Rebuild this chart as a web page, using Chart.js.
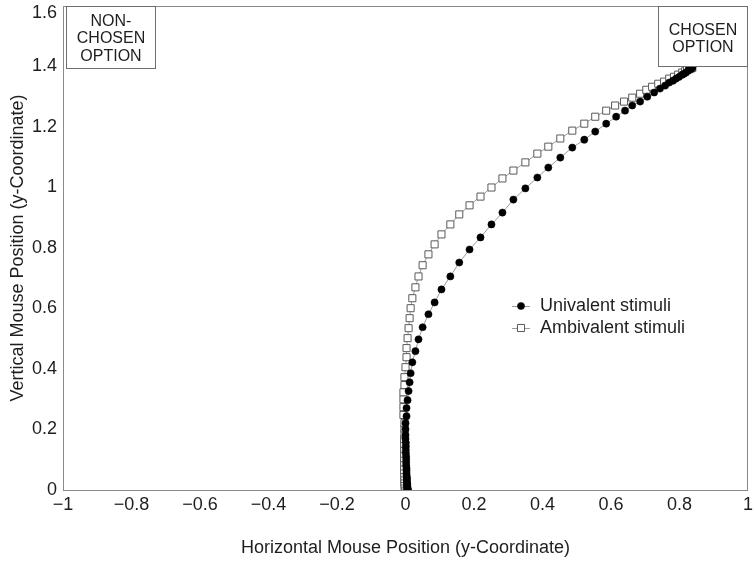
<!DOCTYPE html>
<html>
<head>
<meta charset="utf-8">
<script src="https://cdn.jsdelivr.net/npm/chart.js@4/dist/chart.umd.min.js"></script>
<style>
  html, body { margin: 0; padding: 0; background: #fff; }
  #wrap { width: 754px; height: 561px; }
</style>
</head>
<body>
<div id="wrap"><canvas id="mouse-chart"></canvas></div>
<script>
// mean trajectories
var uniX = [0.006,0.006,0.006,0.006,0.006,0.006,0.005,0.005,0.005,0.005,0.004,0.004,0.004,0.004,0.003,0.003,0.003,0.003,0.002,0.002,0.002,0.002,0.001,0.001,0.001,0.001,0.000,0.000,
  0.000,0.000,0.003,0.003,0.006,0.009,0.012,0.015,0.020,0.029,0.038,0.050,0.067,0.085,0.105,0.131,0.157,0.187,0.219,0.251,0.283,0.315,0.350,0.385,0.417,0.452,0.487,0.522,0.554,0.586,0.615,0.641,0.662,0.685,0.706,0.726,
  0.743,0.758,0.770,0.781,0.790,0.799,0.808,0.813,0.819,0.825,0.828,0.831,0.834,0.835,0.837,0.837];
var uniY = [0,0.000,0.001,0.002,0.004,0.006,0.009,0.012,0.016,0.020,0.025,0.030,0.036,0.042,0.049,0.056,0.064,0.072,0.081,0.090,0.100,0.110,0.121,0.132,0.144,0.156,0.169,0.182,
  0.201,0.221,0.244,0.271,0.297,0.327,0.356,0.386,0.422,0.459,0.498,0.538,0.581,0.620,0.663,0.706,0.752,0.795,0.835,0.878,0.917,0.960,0.997,1.033,1.066,1.099,1.132,1.158,1.185,1.211,1.234,1.254,1.271,1.284,1.300,1.314,
  1.327,1.337,1.347,1.353,1.360,1.366,1.373,1.376,1.380,1.386,1.389,1.391,1.393,1.394,1.396,1.396];

var ambX = [0.000,-0.001,-0.001,-0.002,-0.002,-0.002,-0.003,-0.003,-0.003,-0.003,-0.004,-0.004,-0.004,-0.004,-0.004,-0.004,-0.004,-0.004,-0.004,-0.003,-0.003,
  -0.003,-0.006,-0.006,-0.006,-0.006,-0.003,-0.003,0.000,0.003,0.003,0.006,0.009,0.012,0.015,0.020,0.029,0.038,0.050,0.067,0.085,0.105,0.131,0.157,0.187,0.219,0.251,0.283,0.315,0.350,0.385,0.417,0.452,0.487,0.522,0.554,0.586,
  0.612,0.638,0.662,0.685,0.703,0.720,0.738,0.755,0.770,0.784,0.796,0.808,0.816,0.822,0.828,0.831,0.834,0.837,0.837];
var ambY = [0,0.001,0.003,0.006,0.010,0.015,0.021,0.028,0.036,0.045,0.055,0.066,0.078,0.091,0.105,0.120,0.136,0.152,0.169,0.186,0.203,
  0.221,0.248,0.274,0.300,0.323,0.347,0.373,0.406,0.439,0.469,0.502,0.535,0.568,0.601,0.634,0.670,0.706,0.743,0.779,0.812,0.845,0.878,0.911,0.941,0.970,1.000,1.030,1.056,1.083,1.112,1.135,1.162,1.188,1.211,1.234,1.254,
  1.271,1.284,1.297,1.310,1.323,1.333,1.343,1.350,1.360,1.366,1.373,1.380,1.384,1.388,1.391,1.393,1.394,1.396,1.396];

var seriesNames = ['Univalent stimuli', 'Ambivalent stimuli'];
var xTicks = [-1, -0.8, -0.6, -0.4, -0.2, 0, 0.2, 0.4, 0.6, 0.8, 1];
var yTicks = [0, 0.2, 0.4, 0.6, 0.8, 1, 1.2, 1.4, 1.6];
var xTitle = 'Horizontal Mouse Position (y-Coordinate)';
var yTitle = 'Vertical Mouse Position (y-Coordinate)';
var leftBoxLines = ['NON-', 'CHOSEN', 'OPTION'];
var rightBoxLines = ['CHOSEN', 'OPTION'];

function pts(xs, ys) {
  return xs.map(function (x, i) { return { x: x, y: ys[i] }; });
}

var FONT = 'Arial, "Liberation Sans", Helvetica, sans-serif';
var TXT = '#1e1e1e';
var FRAME = '#8a8a8a';

function fmt(v) {
  var s = String(Math.round(v * 10) / 10);
  return s.replace('-', '\u2212');
}

// plot frame; also nudge the top y label down so it stays on the canvas
var framePlugin = {
  id: 'frame',
  beforeDraw: function (chart) {
    var ys = chart.scales.y;
    var items = ys.getLabelItems(chart.chartArea);
    items.forEach(function (it) {
      if (it.label === '1.6' && !it._moved) {
        it.options.translation[1] += 7;
        it._moved = true;
      }
    });
  },
  beforeDatasetsDraw: function (chart) {
    var a = chart.chartArea, ctx = chart.ctx;
    ctx.save();
    ctx.strokeStyle = FRAME;
    ctx.lineWidth = 1;
    ctx.strokeRect(a.left + 0.5, a.top + 0.5, a.right - a.left - 1, a.bottom - a.top);
    ctx.restore();
  }
};

// answer boxes + legend inside the plot
var overlayPlugin = {
  id: 'overlay',
  afterDatasetsDraw: function (chart) {
    var ctx = chart.ctx, xs = chart.scales.x, ys = chart.scales.y;
    ctx.save();
    function box(x0, x1, y0, y1, lines, ty, lh) {
      var l = Math.round(xs.getPixelForValue(x0)) + 0.5, r = Math.round(xs.getPixelForValue(x1)) - 0.5;
      var t = Math.round(ys.getPixelForValue(y0)) + 0.5, b = Math.round(ys.getPixelForValue(y1)) + 0.5;
      ctx.fillStyle = '#fff';
      ctx.fillRect(l, t, r - l, b - t);
      ctx.strokeStyle = '#6e6e6e';
      ctx.lineWidth = 1;
      ctx.strokeRect(l, t, r - l, b - t);
      ctx.fillStyle = TXT;
      ctx.font = '16px ' + FONT;
      ctx.textAlign = 'center';
      ctx.textBaseline = 'middle';
      lines.forEach(function (s, i) { ctx.fillText(s, (l + r) / 2, t + ty + i * lh); });
    }
    box(-0.991, -0.729, 1.6, 1.396, leftBoxLines, 15, 17.5);
    box(0.738, 1.0, 1.6, 1.403, rightBoxLines, 24.5, 17);

    var lx = chart.chartArea.left + 458, ly = chart.chartArea.top + 300;
    chart.data.datasets.forEach(function (ds, i) {
      var y = ly + i * 22;
      ctx.strokeStyle = ds.borderColor;
      ctx.lineWidth = 1;
      ctx.beginPath(); ctx.moveTo(lx - 9, y + 0.5); ctx.lineTo(lx + 9, y + 0.5); ctx.stroke();
      ctx.fillStyle = ds.pointBackgroundColor;
      ctx.strokeStyle = ds.pointBorderColor;
      ctx.lineWidth = ds.pointBorderWidth;
      ctx.beginPath();
      if (ds.pointStyle === 'rect') {
        var s = Math.SQRT1_2 * ds.pointRadius;
        ctx.rect(lx - s, y - s, 2 * s, 2 * s);
      } else {
        ctx.arc(lx, y, ds.pointRadius, 0, Math.PI * 2);
      }
      ctx.fill(); ctx.stroke();
      ctx.fillStyle = TXT;
      ctx.font = '18px ' + FONT;
      ctx.textAlign = 'left';
      ctx.textBaseline = 'middle';
      ctx.fillText(ds.label, lx + 19, y);
    });
    ctx.restore();
  }
};

var chart = new Chart(document.getElementById('mouse-chart'), {
  type: 'scatter',
  data: {
    datasets: [
      {
        label: seriesNames[0],
        data: pts(uniX, uniY),
        showLine: true,
        borderColor: '#9a9a9a',
        borderWidth: 1,
        pointStyle: 'circle',
        pointRadius: 3.6,
        pointBorderWidth: 0.5,
        pointBackgroundColor: '#000',
        pointBorderColor: '#000'
      },
      {
        label: seriesNames[1],
        data: pts(ambX, ambY),
        showLine: true,
        borderColor: '#9a9a9a',
        borderWidth: 1,
        pointStyle: 'rect',
        pointRadius: 5,
        pointBorderWidth: 1,
        pointBackgroundColor: '#fff',
        pointBorderColor: '#5a5a5a'
      }
    ]
  },
  options: {
    responsive: true,
    maintainAspectRatio: false,
    animation: false,
    layout: { padding: { left: 0, right: 5, top: 5, bottom: 0 } },
    plugins: {
      legend: { display: false },
      tooltip: { enabled: false }
    },
    scales: {
      x: {
        type: 'linear',
        min: -1, max: 1,
        afterBuildTicks: function (s) { s.ticks = xTicks.map(function (v) { return { value: v }; }); },
        afterFit: function (s) { s.height = 71; s.paddingLeft = 0; s.paddingRight = 0; },
        grid: { display: false, drawTicks: false },
        border: { display: false },
        ticks: { padding: 4, color: TXT, font: { family: FONT, size: 18 }, maxRotation: 0, callback: fmt },
        title: { display: true, text: xTitle, color: TXT, font: { family: FONT, size: 18 }, padding: { top: 0, bottom: 2 } }
      },
      y: {
        type: 'linear',
        min: 0, max: 1.6,
        afterBuildTicks: function (s) { s.ticks = yTicks.map(function (v) { return { value: v }; }); },
        afterFit: function (s) { s.width = 63; s.paddingTop = 0; s.paddingBottom = 0; },
        grid: { display: false, drawTicks: false },
        border: { display: false },
        ticks: { padding: 6, color: TXT, font: { family: FONT, size: 18 }, callback: fmt },
        title: { display: true, text: yTitle, color: TXT, font: { family: FONT, size: 18 }, padding: { top: 7, bottom: 0 } }
      }
    }
  },
  plugins: [framePlugin, overlayPlugin]
});
</script>
</body>
</html>
